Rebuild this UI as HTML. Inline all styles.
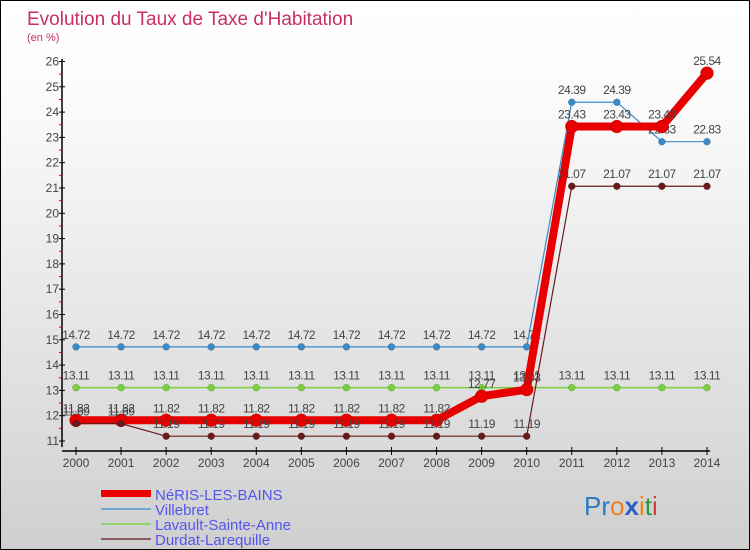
<!DOCTYPE html>
<html><head><meta charset="utf-8"><style>
body{margin:0}
#c{width:748px;height:548px;border:1px solid #000;background:linear-gradient(#fff,#fafafa 20%,#e0e0e0 70%,#cfcfcf);position:relative;font-family:"Liberation Sans",sans-serif;overflow:hidden}
</style></head><body>
<div id="c">
<svg id="s" width="748" height="548" xmlns="http://www.w3.org/2000/svg">
<text x="26" y="24" font-size="19" fill="#c8305e">Evolution du Taux de Taxe d'Habitation</text>
<text x="26" y="40" font-size="11" fill="#c8305e">(en %)</text>
<g id="axes"></g><g id="series"></g>
<g font-size="15" fill="#5555ee">
<rect x="100" y="489" width="50" height="7" fill="#e00"/>
<text x="154" y="499">NéRIS-LES-BAINS</text>
<rect x="100" y="507" width="50" height="2" fill="#6fa8d0"/>
<text x="154" y="514">Villebret</text>
<rect x="100" y="522" width="50" height="2" fill="#8ed46a"/>
<text x="154" y="529">Lavault-Sainte-Anne</text>
<rect x="100" y="537" width="50" height="2" fill="#8b5a5a"/>
<text x="154" y="544">Durdat-Larequille</text>
</g>
<text x="583" y="514" font-size="26"><tspan fill="#2a7ac0">Pr</tspan><tspan fill="#f08020">o</tspan><tspan fill="#2a60c0" font-weight="bold">x</tspan><tspan fill="#f08020">i</tspan><tspan fill="#2a9a40">t</tspan><tspan fill="#d04040">i</tspan></text>
</svg></div>
<script>
const years=[2000,2001,2002,2003,2004,2005,2006,2007,2008,2009,2010,2011,2012,2013,2014];
const neris=[11.82,11.82,11.82,11.82,11.82,11.82,11.82,11.82,11.82,12.77,13.03,23.43,23.43,23.43,25.54];
const villebret=[14.72,14.72,14.72,14.72,14.72,14.72,14.72,14.72,14.72,14.72,14.72,24.39,24.39,22.83,22.83];
const lavault=[13.11,13.11,13.11,13.11,13.11,13.11,13.11,13.11,13.11,13.11,13.11,13.11,13.11,13.11,13.11];
const durdat=[11.69,11.69,11.19,11.19,11.19,11.19,11.19,11.19,11.19,11.19,11.19,21.07,21.07,21.07,21.07];
const yTicks=[11,12,13,14,15,16,17,18,19,20,21,22,23,24,25,26];
const NS="http://www.w3.org/2000/svg";
const xs=i=>75+i*45.07;
const ys=v=>440-(v-11)*25.3;
function el(t,a,p){const e=document.createElementNS(NS,t);for(const k in a)e.setAttribute(k,a[k]);p.appendChild(e);return e;}
const ax=document.getElementById('axes'),sg=document.getElementById('series');
el('line',{x1:61,y1:58,x2:61,y2:446,stroke:'#000','stroke-width':1.5},ax);
el('line',{x1:61,y1:450,x2:709,y2:450,stroke:'#000','stroke-width':1.5},ax);
yTicks.forEach(v=>{
 el('line',{x1:58,y1:ys(v),x2:64,y2:ys(v),stroke:'#000'},ax);
 if(v<26)el('line',{x1:58,y1:ys(v+0.5),x2:61,y2:ys(v+0.5),stroke:'#e00'},ax);
 const t=el('text',{x:58,y:ys(v)+4,'font-size':12,'text-anchor':'end',fill:'#444'},ax);t.textContent=v;
 
 
});
years.forEach((y,i)=>{
 el('line',{x1:xs(i),y1:446,x2:xs(i),y2:454,stroke:'#000'},ax);
 const t=el('text',{x:xs(i),y:466,'font-size':12,'text-anchor':'middle',fill:'#444'},ax);t.textContent=y;
 
 
});
function series(arr,color,w,r,name){
 const g=el('g',{},sg);
 
 
 el('polyline',{points:arr.map((v,i)=>xs(i)+','+ys(v)).join(' '),fill:'none',stroke:color,'stroke-width':w,'stroke-linejoin':'round'},g);
 arr.forEach((v,i)=>{
  const c=el('circle',{cx:xs(i),cy:ys(v),r:r,fill:color,stroke:'rgba(0,0,0,0.25)','stroke-width':0.5},g);
  
  
  const t=el('text',{x:xs(i),y:ys(v)-8,'font-size':12,'text-anchor':'middle',fill:'#444','letter-spacing':'-0.5'},g);t.textContent=v.toFixed(2);
  
  
 });
}
series(villebret,'#3a8ac8',1.2,3.5,'villebret');
series(lavault,'#7ad040',1.5,3.5,'lavault');
series(neris,'#e80000',8,6.5,'neris');
series(durdat,'#6a1a1a',1.2,3.5,'durdat');
</script>
</body></html>
